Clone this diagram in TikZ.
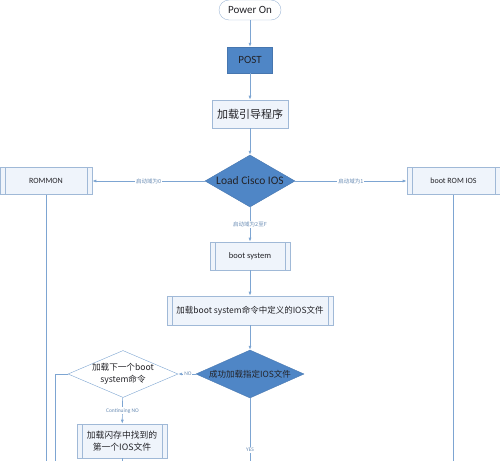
\documentclass[tikz,border=0pt]{standalone}
\usepackage{fontspec}
\setmainfont{Carlito}
\newfontfamily\cjk{Noto Sans CJK SC}
\usepackage{xcolor}
\usetikzlibrary{arrows.meta,shapes.geometric}
\definecolor{linec}{RGB}{125,165,210}
\definecolor{bluefill}{RGB}{79,134,198}
\definecolor{blueline}{RGB}{70,118,175}
\definecolor{boxfill}{RGB}{239,244,251}
\definecolor{boxline}{RGB}{160,185,215}
\definecolor{txt}{RGB}{35,35,40}
\definecolor{lblc}{RGB}{105,140,180}

\begin{document}
\begin{tikzpicture}[x=1pt,y=-1pt,
  box/.style={draw=boxline,fill=boxfill,align=center,inner sep=0pt,text=txt,line width=0.6pt},
  proc/.style={box,path picture={
    \draw[boxline,line width=0.6pt] ([xshift=5pt]path picture bounding box.north west) -- ([xshift=5pt]path picture bounding box.south west);
    \draw[boxline,line width=0.6pt] ([xshift=-5pt]path picture bounding box.north east) -- ([xshift=-5pt]path picture bounding box.south east);}},
  dec/.style={diamond,draw=blueline,fill=bluefill,inner sep=0pt,align=center,text=txt},
  arr/.style={-{Latex[length=4pt,width=3pt]},draw=linec,line width=0.7pt},
  ln/.style={draw=linec,line width=0.7pt},
  lbl/.style={fill=white,inner sep=1pt,text=lblc,font=\cjk\fontsize{5.5}{6}\selectfont}]
\useasboundingbox (0,0) rectangle (500,460);
\clip (0,0) rectangle (500,460);
\node[draw=boxline,fill=white,rounded corners=10pt,minimum width=62pt,minimum height=20pt,inner sep=0pt,text=txt,font=\fontsize{11}{12}\selectfont] (on) at (250,10) {Power On};
\node[draw=blueline,fill=bluefill,minimum width=45pt,minimum height=26pt,inner sep=0pt,text=txt,font=\fontsize{11}{12}\selectfont] (post) at (250,60) {POST};
\node[box,minimum width=76pt,minimum height=28pt,font=\cjk\fontsize{11}{13}\selectfont] (loader) at (250,114) {加载引导程序};
\node[dec,aspect=1.73,minimum width=90pt,minimum height=52pt,font=\fontsize{11.5}{13}\selectfont] (ios) at (250,181) {Load Cisco IOS};
\node[proc,minimum width=92pt,minimum height=27pt,font=\fontsize{8}{10}\selectfont] (rommon) at (46,181) {ROMMON};
\node[proc,minimum width=93pt,minimum height=27pt,font=\fontsize{8}{10}\selectfont] (romios) at (453.5,181) {boot ROM IOS};
\node[proc,minimum width=80pt,minimum height=28pt,font=\fontsize{8.5}{10}\selectfont] (bsys) at (250,256) {boot system};
\node[proc,minimum width=166pt,minimum height=29pt,font=\cjk\fontsize{8.5}{10}\selectfont] (loadf) at (250,310.5) {加载boot system命令中定义的IOS文件};
\node[dec,aspect=2.25,minimum width=108pt,minimum height=48pt,font=\cjk\fontsize{8.5}{10}\selectfont] (ok) at (250,374) {成功加载指定IOS文件};
\node[diamond,aspect=2.3,draw=linec,fill=white,inner sep=-4pt,minimum width=110pt,minimum height=47pt,align=center,text=txt,font=\cjk\fontsize{8.6}{12}\selectfont] (next) at (123,374) {加载下一个boot\\system命令};
\node[proc,minimum width=90pt,minimum height=34pt,font=\cjk\fontsize{8.8}{12}\selectfont] (flash) at (122,441) {加载闪存中找到的\\第一个IOS文件};
\coordinate (bot) at (0,466);
\coordinate (leftdown) at (55,466);
\draw[arr] (on) -- (post);
\draw[arr] (post) -- (loader);
\draw[arr] (loader) -- (ios);
\draw[arr] (ios) -- node[lbl]{启动域为0} (rommon);
\draw[arr] (ios) -- node[lbl]{启动域为1} (romios);
\draw[arr] (ios) -- node[lbl]{启动域为2至F} (bsys);
\draw[arr] (bsys) -- (loadf);
\draw[arr] (loadf) -- (ok);
\draw[arr] (ok) -- node[lbl,pos=0.45,font=\fontsize{5.5}{6}\selectfont]{NO} (next);
\draw[arr] (next) -- node[lbl,font=\fontsize{5.5}{6}\selectfont]{Continuing NO} (flash);
\draw[ln] (ok) -- node[lbl,pos=0.76,font=\fontsize{5.5}{6}\selectfont]{YES} (ok |- bot);
\draw[ln] (next.west) -| (leftdown);
\draw[ln] (rommon.south) -- (rommon.south |- bot);
\draw[ln] (romios.south) -- (romios.south |- bot);
\draw[ln] (flash.south) -- (flash.south |- bot);
\end{tikzpicture}
\end{document}
